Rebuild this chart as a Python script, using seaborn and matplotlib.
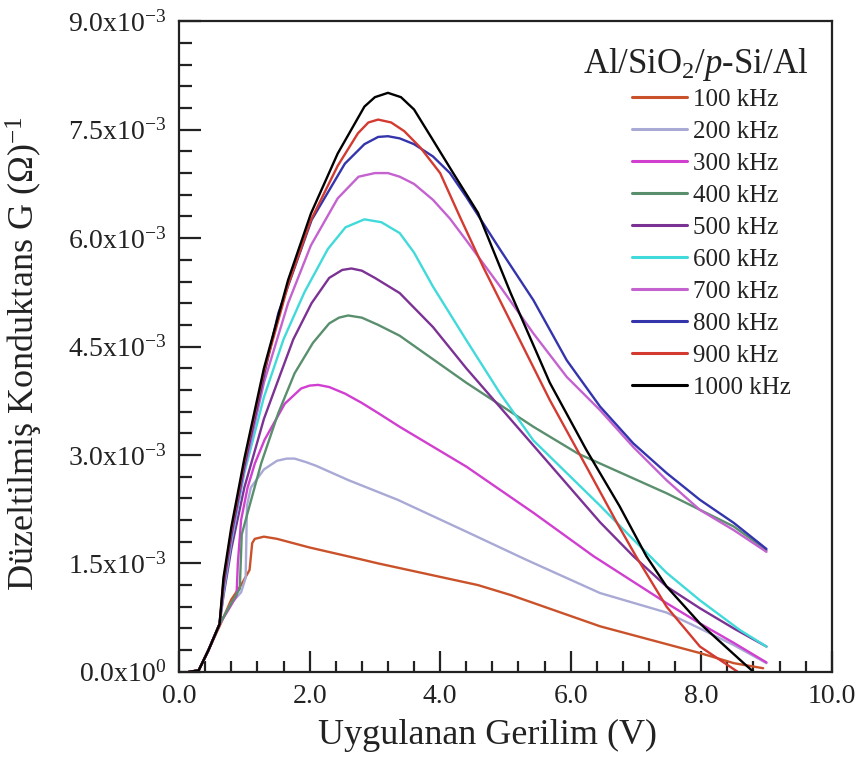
import matplotlib
matplotlib.use("Agg")
import matplotlib.pyplot as plt
from matplotlib.ticker import MultipleLocator
import seaborn as sns
import pandas as pd

# ---------------- data (G in units of 1e-3 S) ----------------
freqs = ["100 kHz", "200 kHz", "300 kHz", "400 kHz", "500 kHz",
         "600 kHz", "700 kHz", "800 kHz", "900 kHz", "1000 kHz"]
legend_title = "Al/SiO$_2$/$p$-Si/Al"

V_100 = [0.15, 0.3, 0.45, 0.62, 0.8, 0.95, 1.08, 1.12, 1.16, 1.3, 1.5, 2.0, 2.77, 3.05, 4.58, 5.09, 6.45, 7.98, 8.5, 8.95]
G_100 = [0.0, 0.02, 0.3, 0.63, 1.0, 1.2, 1.41, 1.78, 1.84, 1.87, 1.84, 1.72, 1.56, 1.5, 1.2, 1.06, 0.63, 0.26, 0.12, 0.05]

V_200 = [0.15, 0.3, 0.45, 0.62, 0.8, 0.95, 1.02, 1.04, 1.1, 1.3, 1.5, 1.65, 1.77, 1.95, 2.1, 2.6, 3.35, 4.4, 5.32, 6.45, 7.47, 7.98, 8.5, 9.0]
G_200 = [0.0, 0.02, 0.3, 0.66, 0.95, 1.1, 1.3, 2.3, 2.55, 2.8, 2.92, 2.95, 2.95, 2.9, 2.85, 2.65, 2.38, 1.94, 1.55, 1.09, 0.82, 0.6, 0.37, 0.12]

V_300 = [0.15, 0.3, 0.45, 0.62, 0.75, 0.88, 0.9, 0.95, 1.05, 1.16, 1.31, 1.62, 1.87, 2.0, 2.13, 2.3, 2.54, 2.8, 3.05, 3.38, 4.4, 5.43, 6.35, 7.47, 7.98, 8.5, 9.0]
G_300 = [0.0, 0.02, 0.3, 0.66, 0.85, 1.05, 1.5, 2.1, 2.55, 2.88, 3.21, 3.71, 3.92, 3.96, 3.97, 3.94, 3.85, 3.72, 3.58, 3.39, 2.84, 2.2, 1.6, 0.95, 0.67, 0.4, 0.13]

V_400 = [0.15, 0.3, 0.45, 0.62, 0.8, 0.93, 0.96, 1.05, 1.26, 1.52, 1.77, 2.05, 2.3, 2.45, 2.59, 2.8, 3.05, 3.38, 4.4, 5.43, 6.11, 7.47, 8.5, 8.9, 9.0]
G_400 = [0.0, 0.02, 0.3, 0.66, 0.95, 1.15, 1.9, 2.2, 2.89, 3.58, 4.13, 4.55, 4.82, 4.9, 4.93, 4.9, 4.8, 4.65, 4.0, 3.39, 3.02, 2.47, 2.01, 1.75, 1.68]

V_500 = [0.15, 0.3, 0.45, 0.62, 0.68, 0.8, 1.0, 1.3, 1.52, 1.75, 2.03, 2.3, 2.5, 2.64, 2.8, 3.0, 3.38, 3.89, 4.4, 5.43, 6.45, 6.96, 7.47, 7.98, 8.5, 9.0]
G_500 = [0.0, 0.02, 0.3, 0.66, 1.05, 1.7, 2.55, 3.5, 4.04, 4.6, 5.1, 5.45, 5.56, 5.58, 5.55, 5.45, 5.24, 4.77, 4.2, 3.13, 2.07, 1.6, 1.18, 0.88, 0.6, 0.35]

V_600 = [0.15, 0.3, 0.45, 0.62, 0.68, 0.8, 1.0, 1.3, 1.6, 1.92, 2.28, 2.55, 2.84, 3.1, 3.38, 3.6, 3.89, 4.4, 4.92, 5.43, 5.94, 6.45, 6.96, 7.47, 7.98, 8.59, 9.0]
G_600 = [0.0, 0.02, 0.3, 0.66, 1.1, 1.8, 2.75, 3.8, 4.6, 5.25, 5.85, 6.15, 6.26, 6.22, 6.07, 5.8, 5.33, 4.59, 3.85, 3.2, 2.75, 2.3, 1.83, 1.37, 0.99, 0.58, 0.35]

V_700 = [0.15, 0.3, 0.45, 0.62, 0.68, 0.8, 1.0, 1.3, 1.67, 2.02, 2.43, 2.75, 3.0, 3.2, 3.38, 3.6, 3.89, 4.15, 4.4, 4.92, 5.43, 5.94, 6.45, 6.96, 7.47, 7.98, 8.5, 9.0]
G_700 = [0.0, 0.02, 0.3, 0.66, 1.15, 1.85, 2.8, 4.0, 5.1, 5.9, 6.55, 6.85, 6.9, 6.9, 6.85, 6.75, 6.53, 6.27, 5.97, 5.33, 4.68, 4.08, 3.62, 3.11, 2.65, 2.24, 1.96, 1.66]

V_800 = [0.15, 0.3, 0.45, 0.62, 0.68, 0.8, 1.0, 1.3, 1.52, 2.03, 2.54, 2.84, 3.05, 3.2, 3.38, 3.6, 3.89, 4.15, 4.4, 4.92, 5.43, 5.94, 6.45, 6.96, 7.47, 7.98, 8.5, 9.0]
G_800 = [0.0, 0.02, 0.3, 0.66, 1.2, 1.9, 2.85, 4.1, 4.96, 6.25, 7.03, 7.3, 7.4, 7.41, 7.38, 7.3, 7.13, 6.9, 6.57, 5.84, 5.14, 4.31, 3.67, 3.16, 2.75, 2.38, 2.06, 1.70]

V_900 = [0.15, 0.3, 0.45, 0.62, 0.68, 0.8, 1.0, 1.3, 1.67, 2.02, 2.43, 2.74, 2.9, 3.05, 3.25, 3.45, 3.7, 4.0, 4.3, 4.66, 5.17, 5.68, 6.24, 6.71, 7.0, 7.47, 7.98, 8.56]
G_900 = [0.0, 0.02, 0.3, 0.66, 1.25, 1.95, 2.9, 4.15, 5.35, 6.25, 7.0, 7.45, 7.6, 7.64, 7.6, 7.48, 7.25, 6.9, 6.3, 5.6, 4.68, 3.76, 2.84, 2.06, 1.6, 0.9, 0.35, 0.0]

V_1000 = [0.15, 0.3, 0.45, 0.62, 0.68, 0.8, 1.0, 1.3, 1.67, 2.02, 2.43, 2.84, 3.0, 3.2, 3.4, 3.6, 3.86, 4.2, 4.58, 5.08, 5.68, 6.24, 6.75, 7.16, 7.47, 7.98, 8.59, 8.8]
G_1000 = [0.0, 0.02, 0.3, 0.66, 1.3, 2.0, 2.95, 4.2, 5.42, 6.34, 7.17, 7.82, 7.95, 8.01, 7.95, 7.78, 7.40, 6.9, 6.35, 5.24, 4.0, 3.07, 2.29, 1.60, 1.18, 0.67, 0.17, 0.0]

colors = ["#c9522b", "#a9a9d6", "#d03fd0", "#5a8f6e", "#7b3294",
          "#40dada", "#c462d0", "#3434ac", "#d33a30", "#000000"]

x_ticks = [0, 2, 4, 6, 8, 10]
x_tick_labels = ["0.0", "2.0", "4.0", "6.0", "8.0", "10.0"]
y_ticks = [0.0, 1.5e-3, 3.0e-3, 4.5e-3, 6.0e-3, 7.5e-3, 9.0e-3]
y_tick_labels = ["0.0x10$^{0}$", "1.5x10$^{-3}$", "3.0x10$^{-3}$", "4.5x10$^{-3}$",
                 "6.0x10$^{-3}$", "7.5x10$^{-3}$", "9.0x10$^{-3}$"]

# ---------------- build table ----------------
Vs = [V_100, V_200, V_300, V_400, V_500, V_600, V_700, V_800, V_900, V_1000]
Gs = [G_100, G_200, G_300, G_400, G_500, G_600, G_700, G_800, G_900, G_1000]
rows = []
for f, v, g in zip(freqs, Vs, Gs):
    for a, b in zip(v, g):
        rows.append({"V": a, "G": b * 1e-3, "f": f})
df = pd.DataFrame(rows)

# ---------------- style ----------------
sns.set_theme(style="ticks")
plt.rcParams["font.family"] = ["Liberation Serif", "DejaVu Serif"]
plt.rcParams["mathtext.fontset"] = "custom"
plt.rcParams["mathtext.rm"] = "Liberation Serif"
plt.rcParams["mathtext.it"] = "Liberation Serif:italic"

fig = plt.figure(figsize=(8.61, 7.6), dpi=100)
ax = fig.add_axes([0.208, 0.116, 0.758, 0.856])

sns.lineplot(data=df, x="V", y="G", hue="f", hue_order=freqs,
             palette=dict(zip(freqs, colors)),
             estimator=None, sort=False, linewidth=1.7, ax=ax)

ax.set_xlim(0, 10)
ax.set_ylim(0, 9.0e-3)
ax.set_xticks(x_ticks)
ax.set_xticklabels(x_tick_labels)
ax.set_yticks(y_ticks)
ax.set_yticklabels(y_tick_labels)
ax.xaxis.set_minor_locator(MultipleLocator(0.4))
ax.yaxis.set_minor_locator(MultipleLocator(0.3e-3))

ax.tick_params(axis="both", which="both", direction="in", top=False, right=False,
               colors="#222222", width=1.6)
ax.tick_params(axis="y", which="major", length=16, pad=9, labelsize=20)
ax.tick_params(axis="y", which="minor", length=9)
ax.tick_params(axis="x", which="major", length=15, pad=9, labelsize=20)
ax.tick_params(axis="x", which="minor", length=8)
for s in ax.spines.values():
    s.set_linewidth(1.6)
    s.set_color("#222222")

ax.set_xlabel("Uygulanan Gerilim (V)", fontsize=26, color="#222222")
ax.set_ylabel("Düzeltilmiş Konduktans G (Ω)$^{-1}$", fontsize=26, color="#222222")
ax.xaxis.set_label_coords(0.473, -0.073)
ax.yaxis.set_label_coords(-0.205, 0.49)

# legend (title drawn as text above the entries, as in the original)
sns.move_legend(ax, "upper left", bbox_to_anchor=(0.694, 0.897),
                title=None, frameon=False,
                fontsize=18, handlelength=2.2,
                handletextpad=0.25, labelspacing=0.38, borderpad=0,
                borderaxespad=0)
leg = ax.get_legend()
for t in leg.get_texts():
    t.set_color("#222222")
for h in leg.get_lines():
    h.set_linewidth(2.2)
ax.text(0.792, 0.921, legend_title, transform=ax.transAxes, ha="center",
        va="baseline", fontsize=25, color="#222222")

fig.savefig("out.png", dpi=100)
